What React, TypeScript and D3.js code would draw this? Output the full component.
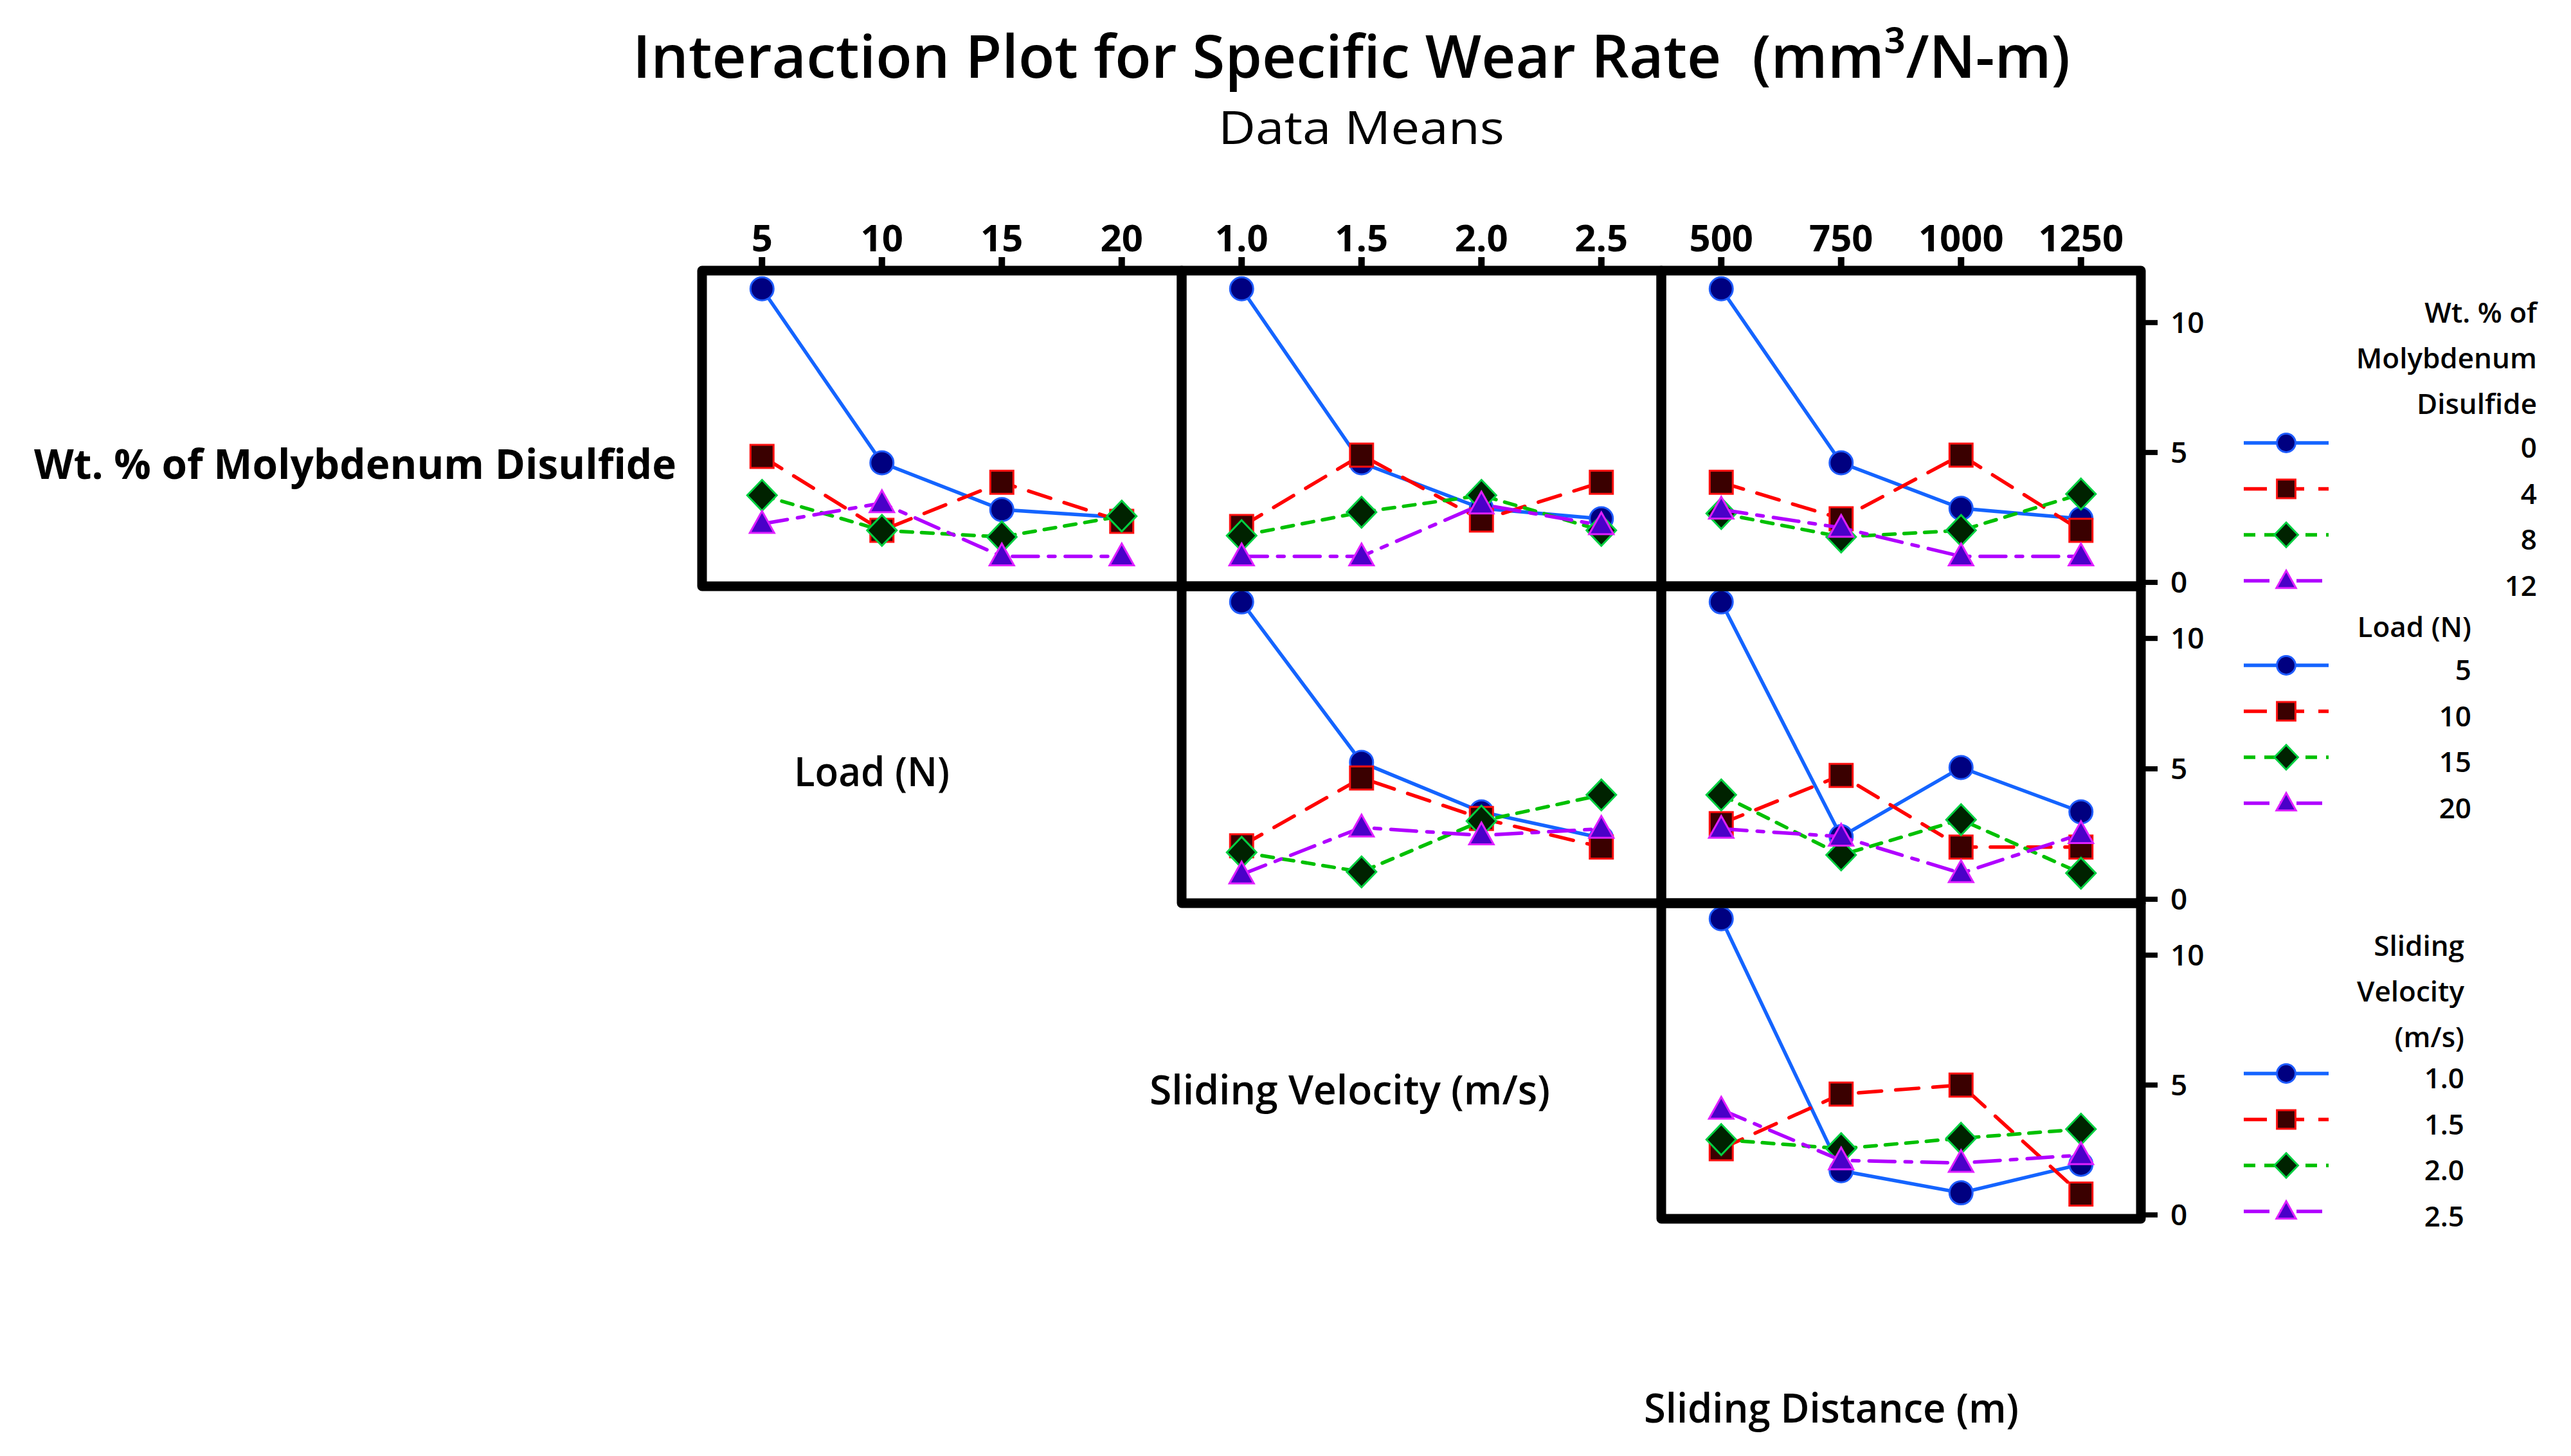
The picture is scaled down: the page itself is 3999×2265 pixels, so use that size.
import React, { useRef, useEffect } from 'react';
import * as d3 from 'd3';

const WIDTH = 3999;
const HEIGHT = 2265;
const FONT = "'Open Sans', 'Noto Sans', sans-serif";

// factor levels
const wtLevels = ['0', '4', '8', '12'];
const loadLevels = ['5', '10', '15', '20'];
const velocityLevels = ['1.0', '1.5', '2.0', '2.5'];
const distanceLevels = ['500', '750', '1000', '1250'];

// data means: one row per trace level, one value per x level
const wtVsLoad = [
  [11.3, 4.6, 2.8, 2.5],
  [4.85, 2.0, 3.85, 2.35],
  [3.35, 2.0, 1.75, 2.55],
  [2.25, 3.05, 1.0, 1.0],
];
const wtVsVelocity = [
  [11.3, 4.6, 2.85, 2.45],
  [2.15, 4.9, 2.4, 3.85],
  [1.8, 2.7, 3.35, 2.0],
  [1.0, 1.0, 3.0, 2.2],
];
const wtVsDistance = [
  [11.3, 4.6, 2.85, 2.45],
  [3.85, 2.45, 4.9, 2.0],
  [2.65, 1.75, 2.0, 3.4],
  [2.8, 2.1, 1.0, 1.0],
];
const loadVsVelocity = [
  [11.4, 5.25, 3.35, 2.35],
  [2.05, 4.65, 3.1, 2.0],
  [1.8, 1.05, 3.0, 4.0],
  [0.95, 2.75, 2.45, 2.7],
];
const loadVsDistance = [
  [11.4, 2.4, 5.05, 3.35],
  [2.9, 4.75, 2.0, 2.0],
  [4.0, 1.7, 3.05, 1.0],
  [2.7, 2.4, 1.0, 2.5],
];
const velocityVsDistance = [
  [11.4, 1.7, 0.85, 1.95],
  [2.55, 4.65, 5.0, 0.8],
  [2.9, 2.55, 2.95, 3.3],
  [4.05, 2.1, 2.0, 2.3],
];

const yTicks = [0, 5, 10];

// matrix layout (border centre lines)
const colEdges = [1092, 1838, 2584, 3330];
const rowEdges = [421, 912, 1405, 1896];

const panels = [
  { row: 0, col: 0, levels: loadLevels, means: wtVsLoad },
  { row: 0, col: 1, levels: velocityLevels, means: wtVsVelocity },
  { row: 0, col: 2, levels: distanceLevels, means: wtVsDistance },
  { row: 1, col: 1, levels: velocityLevels, means: loadVsVelocity },
  { row: 1, col: 2, levels: distanceLevels, means: loadVsDistance },
  { row: 2, col: 2, levels: distanceLevels, means: velocityVsDistance },
];

const seriesStyle = [
  { line: '#1464ff', dash: null, marker: 'circle', fill: '#000080', edge: '#1f5cff' },
  { line: '#ff0000', dash: '36 22', marker: 'square', fill: '#3a0000', edge: '#ff1010' },
  { line: '#00c000', dash: '18 14', marker: 'diamond', fill: '#002200', edge: '#00d040' },
  { line: '#b000ff', dash: '40 16 10 16', marker: 'triangle', fill: '#4a00c8', edge: '#e020ff' },
];

const markerPath = (type: string, k = 1) => {
  if (type === 'circle') return d3.symbol(d3.symbolCircle, Math.PI * 18 * 18 * k * k)()!;
  if (type === 'square') { const h = 18 * k; return `M${-h},${-h}H${h}V${h}H${-h}Z`; }
  if (type === 'diamond') return `M0,${-24 * k}L${23 * k},0L0,${24 * k}L${-23 * k},0Z`;
  return `M0,${-20 * k}L${19 * k},${14 * k}L${-19 * k},${14 * k}Z`;
};

const legendGroups = [
  { title: ['Wt. % of', 'Molybdenum', 'Disulfide'], titleTop: 502, labels: wtLevels, firstLine: 689, right: 3946 },
  { title: ['Load (N)'], titleTop: 991, labels: loadLevels, firstLine: 1035, right: 3844 },
  { title: ['Sliding', 'Velocity', '(m/s)'], titleTop: 1487, labels: velocityLevels, firstLine: 1670, right: 3833 },
];

const rowLabels = [
  { text: 'Wt. % of Molybdenum Disulfide', x0: 53, x1: 1052, base: 745, weight: 700 },
  { text: 'Load (N)', x0: 1235, x1: 1477, base: 1223, weight: 600 },
  { text: 'Sliding Velocity (m/s)', x0: 1788, x1: 2411, base: 1718, weight: 600 },
  { text: 'Sliding Distance (m)', x0: 2557, x1: 3140, base: 2213, weight: 600 },
];

const topLevels = [loadLevels, velocityLevels, distanceLevels];

const InteractionPlot = () => {
  const svgRef = useRef<SVGSVGElement | null>(null);

  useEffect(() => {
    if (!svgRef.current) return;
    const svg = d3.select(svgRef.current);
    svg.selectAll('*').remove();

    svg.append('rect').attr('width', WIDTH).attr('height', HEIGHT).attr('fill', '#fff');

    // titles
    svg.append('text')
      .attr('x', 984).attr('y', 121)
      .attr('textLength', 2236).attr('lengthAdjust', 'spacingAndGlyphs')
      .attr('font-family', FONT).attr('font-size', 92).attr('font-weight', 600)
      .text('Interaction Plot for Specific Wear Rate\u00A0 (mm³/N-m)');
    svg.append('text')
      .attr('x', 1895).attr('y', 224)
      .attr('textLength', 445).attr('lengthAdjust', 'spacingAndGlyphs')
      .attr('font-family', FONT).attr('font-size', 72)
      .text('Data Means');

    // diagonal factor names
    rowLabels.forEach(l => {
      svg.append('text')
        .attr('x', l.x0).attr('y', l.base)
        .attr('textLength', l.x1 - l.x0).attr('lengthAdjust', 'spacingAndGlyphs')
        .attr('font-family', FONT).attr('font-size', 64).attr('font-weight', l.weight)
        .text(l.text);
    });

    const yScales = [0, 1, 2].map(r =>
      d3.scaleLinear().domain([-0.15, 12]).range([rowEdges[r + 1], rowEdges[r]]));

    // ! PANELS
    panels.forEach(p => {
      const x = d3.scalePoint<string>().domain(p.levels)
        .range([colEdges[p.col], colEdges[p.col + 1]]).padding(0.5);
      const y = yScales[p.row];
      const g = svg.append('g');

      p.means.forEach((vals, i) => {
        const st = seriesStyle[i];
        const pts = vals.map((v, j) => [x(p.levels[j])!, y(v)] as [number, number]);
        g.append('path')
          .attr('d', d3.line()(pts)!)
          .attr('fill', 'none')
          .attr('stroke', st.line)
          .attr('stroke-width', 5.5)
          .attr('stroke-dasharray', st.dash)
          .attr('stroke-linecap', 'round');
        g.selectAll(null).data(pts).enter().append('path')
          .attr('transform', d => `translate(${d[0]},${d[1]})`)
          .attr('d', markerPath(st.marker))
          .attr('fill', st.fill)
          .attr('stroke', st.edge)
          .attr('stroke-width', 3);
      });
    });

    // ! FRAMES
    panels.forEach(p => {
      svg.append('rect')
        .attr('x', colEdges[p.col]).attr('y', rowEdges[p.row])
        .attr('width', colEdges[p.col + 1] - colEdges[p.col])
        .attr('height', rowEdges[p.row + 1] - rowEdges[p.row])
        .attr('fill', 'none').attr('stroke', '#000')
        .attr('stroke-width', 15).attr('stroke-linejoin', 'round');
    });

    // top axis: ticks + labels
    topLevels.forEach((levels, c) => {
      const x = d3.scalePoint<string>().domain(levels)
        .range([colEdges[c], colEdges[c + 1]]).padding(0.5);
      levels.forEach(l => {
        svg.append('line')
          .attr('x1', x(l)!).attr('x2', x(l)!)
          .attr('y1', rowEdges[0]).attr('y2', rowEdges[0] - 21)
          .attr('stroke', '#000').attr('stroke-width', 10);
        svg.append('text')
          .attr('x', x(l)!).attr('y', 391)
          .attr('text-anchor', 'middle')
          .attr('font-family', FONT).attr('font-size', 58).attr('font-weight', 700)
          .text(l);
      });
    });

    // right axis per row
    yScales.forEach(y => {
      yTicks.forEach(t => {
        svg.append('line')
          .attr('x1', colEdges[3]).attr('x2', colEdges[3] + 26)
          .attr('y1', y(t)).attr('y2', y(t))
          .attr('stroke', '#000').attr('stroke-width', 8);
        svg.append('text')
          .attr('x', 3376).attr('y', y(t))
          .attr('dy', '0.35em')
          .attr('font-family', FONT).attr('font-size', 46).attr('font-weight', 600)
          .text(t);
      });
    });

    // ! LEGEND
    legendGroups.forEach(gr => {
      gr.title.forEach((t, i) => {
        svg.append('text')
          .attr('x', gr.right).attr('y', gr.titleTop + i * 71)
          .attr('text-anchor', 'end')
          .attr('font-family', FONT).attr('font-size', 44).attr('font-weight', 600)
          .text(t);
      });
      gr.labels.forEach((lab, i) => {
        const st = seriesStyle[i];
        const ly = gr.firstLine + i * 71.5;
        svg.append('line')
          .attr('x1', 3490).attr('x2', 3622)
          .attr('y1', ly).attr('y2', ly)
          .attr('stroke', st.line).attr('stroke-width', 5.5)
          .attr('stroke-dasharray', st.dash);
        svg.append('path')
          .attr('transform', `translate(3556,${ly})`)
          .attr('d', markerPath(st.marker, 0.8))
          .attr('fill', st.fill).attr('stroke', st.edge).attr('stroke-width', 3);
        svg.append('text')
          .attr('x', gr.right).attr('y', ly + 8)
          .attr('dy', '0.35em')
          .attr('text-anchor', 'end')
          .attr('font-family', FONT).attr('font-size', 44).attr('font-weight', 600)
          .text(lab);
      });
    });
  }, []);

  return (
    <svg ref={svgRef} width={WIDTH} height={HEIGHT}
      style={{ position: 'absolute', left: 0, top: 0, display: 'block' }} />
  );
};

export default function App() {
  return <InteractionPlot />;
}
